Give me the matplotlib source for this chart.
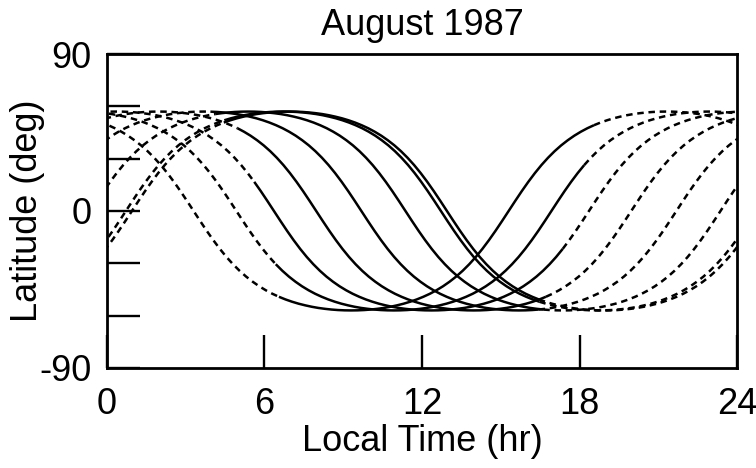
import numpy as np
import matplotlib
matplotlib.use("Agg")
import matplotlib.pyplot as plt

plt.rcParams['font.family'] = ['Liberation Sans', 'DejaVu Sans']

# latitude along one descending pass, every 0.25 hr from -6 hr to +6 hr
# around the descending equator crossing
step_hr = 0.25
desc_lat = [57.0, 56.95, 56.78, 56.49, 56.08, 55.57, 54.90, 54.08, 53.14,
            52.01, 50.70, 49.18, 47.45, 45.44, 43.16, 40.54, 37.60, 34.26,
            30.51, 26.34, 21.73, 16.72, 11.37, 5.75, 0.0, -5.75, -11.37,
            -16.72, -21.73, -26.34, -30.51, -34.26, -37.60, -40.54, -43.16,
            -45.44, -47.45, -49.18, -50.70, -52.01, -53.14, -54.08, -54.90,
            -55.57, -56.08, -56.49, -56.78, -56.95, -57.0]

# local time of the descending equator crossing for each track
node_lt = [3.30, 4.93, 6.36, 7.97, 9.69, 11.37, 12.72, 12.95]
# local time where each track turns solid (sunlit) and back to dashed
day_start = [6.55, 6.35, 5.66, 4.90, 4.00, 4.10, 4.40, 4.40]
day_end = [18.50, 18.27, 17.30, 16.75, 16.50, 16.50, 16.50, 16.50]

# one full orbit: descending half then the mirrored ascending half
cycle = np.array(desc_lat[:48] + [-v for v in desc_lat[:48]])
n_cyc = len(cycle)

fig = plt.figure(figsize=(7.56, 4.68), dpi=100)
ax = fig.add_axes([0.1415, 0.2137, 0.8334, 0.6709])

for n, s, e in zip(node_lt, day_start, day_end):
    k_s = int(round((s - n + 6) / step_hr))
    k_e = int(round((e - n + 6) / step_hr))
    k = np.arange(k_e - n_cyc, k_e + 1)
    x = n - 6 + step_hr * k
    y = cycle[k % n_cyc]
    solid = k >= k_s
    dashed = k <= k_s
    for shift in (0, 24, -24):
        ax.plot(x[solid] + shift, y[solid], color='black', lw=1.8,
                solid_capstyle='butt')
        ax.plot(x[dashed] + shift, y[dashed], color='black', lw=1.8,
                dashes=(2.6, 1.9), dash_capstyle='butt')

ax.set_xlim(0, 24)
ax.set_ylim(-90, 90)
ax.set_xticks([0, 6, 12, 18, 24])
ax.set_yticks([-90, -60, -30, 0, 30, 60, 90])
ax.set_yticklabels(['-90', '', '', '0', '', '', '90'])
ax.tick_params(direction='in', length=24, width=1.7, labelsize=26,
               top=False, right=False)
ax.tick_params(axis='x', pad=14)
ax.tick_params(axis='y', pad=11)
for sp in ax.spines.values():
    sp.set_linewidth(2.0)

ax.set_title('August 1987', fontsize=26, pad=14)
ax.set_xlabel('Local Time (hr)', fontsize=26, labelpad=1)
ax.set_ylabel('Latitude (deg)', fontsize=26, labelpad=-4)

fig.savefig('out.png', dpi=100)
